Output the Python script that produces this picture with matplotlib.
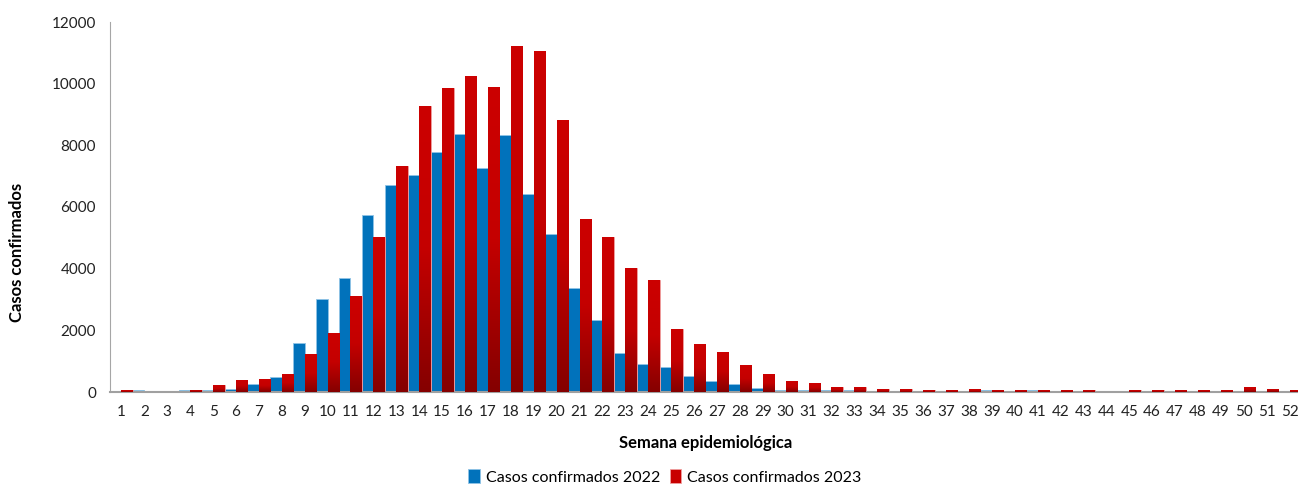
import matplotlib.pyplot as plt
import numpy as np
from matplotlib.colors import LinearSegmentedColormap

plt.rcParams['font.family'] = ['Lato', 'DejaVu Sans']

semanas = list(range(1, 53))
casos_2022 = [0, 60, 0, 60, 60, 110, 260, 475, 1590, 3030,
              3700, 5745, 6700, 7050, 7777, 8373, 7271, 8341, 6427, 5140,
              3380, 2350, 1270, 915, 805, 512, 350, 245, 125, 80,
              80, 60, 60, 0, 0, 0, 0, 0, 60, 0,
              60, 0, 0, 0, 0, 0, 0, 0, 0, 0,
              0, 0]
casos_2023 = [60, 0, 0, 75, 225, 390, 420, 585, 1230, 1920,
              3120, 5020, 7345, 9290, 9865, 10254, 9885, 11214, 11052, 8815,
              5617, 5020, 4028, 3639, 2037, 1563, 1310, 866, 574, 345,
              285, 150, 150, 90, 95, 60, 60, 95, 60, 60,
              60, 60, 60, 0, 60, 60, 60, 60, 60, 160,
              100, 60]

azul = '#0172BB'
rojo = '#C80000'
# red bars fade from bright top to dark bottom
grad = LinearSegmentedColormap.from_list('rojo', ['#850000', '#C40000', '#CC0000'])

fig = plt.figure(figsize=(12.98, 4.86), dpi=100)
ax = fig.add_axes([110 / 1298, 1 - 392 / 486, 1191 / 1298, 370 / 486])

x = np.array(semanas)
ancho = 0.5
ax.bar(x - ancho / 2, casos_2022, ancho, color=azul, edgecolor='#8fc3e6',
       linewidth=0.6, label='Casos confirmados 2022', zorder=2)
barras = ax.bar(x + ancho / 2, casos_2023, ancho, color=rojo, edgecolor='#f0a0a0',
                linewidth=0.6, label='Casos confirmados 2023', zorder=2)

g = np.linspace(1, 0, 100).reshape(-1, 1)
for b in barras:
    h = b.get_height()
    if h <= 0:
        continue
    x0 = b.get_x()
    im = ax.imshow(g, extent=[x0, x0 + b.get_width(), 0, h], aspect='auto',
                   cmap=grad, vmin=0, vmax=1, zorder=3, interpolation='bilinear')
    im.set_clip_path(b)

ax.set_xlim(0.5, 52.5)
ax.set_ylim(0, 12000)
ax.set_yticks(range(0, 12001, 2000))
ax.set_xticks(semanas)
ax.set_xticklabels([str(s) for s in semanas])
ax.tick_params(axis='both', length=0, labelsize=11, colors='#222222')
ax.tick_params(axis='x', pad=9)
ax.tick_params(axis='y', pad=10)

for s in ['top', 'right']:
    ax.spines[s].set_visible(False)
ax.spines['left'].set_color('#a6a6a6')
ax.spines['left'].set_linewidth(0.8)
ax.spines['bottom'].set_color('#a0a0a0')
ax.spines['bottom'].set_linewidth(1.5)

ax.set_ylabel('Casos confirmados', fontsize=12, fontweight='bold')
ax.yaxis.set_label_coords(-0.0714, 0.378)
ax.set_xlabel('Semana epidemiológica', fontsize=12, fontweight='bold', labelpad=12)

leg = fig.legend(loc='center', bbox_to_anchor=(665 / 1298, 1 - 477 / 486), ncol=2,
                 frameon=False, fontsize=11.5, handlelength=0.7, handleheight=0.9,
                 handletextpad=0.4, columnspacing=0.6)

fig.savefig('out.png', dpi=100)
